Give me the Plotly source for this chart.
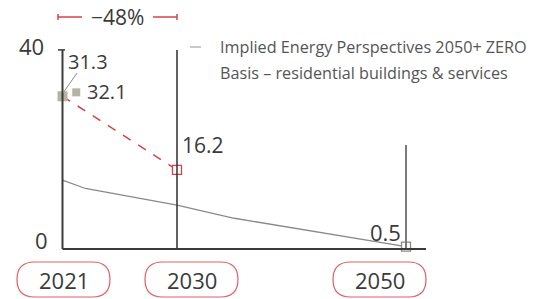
import plotly.graph_objects as go

# ---- data ----
year_labels = ["2021", "2030", "2050"]
year_pos = [2020, 2030, 2050]          # positions on the (decade-spaced) axis
target_values = [31.3, 16.2]           # red dashed path 2021 -> 2030
end_value_2050 = 0.5
extra_2021_value = 32.1
ep_years = [2020, 2022, 2030, 2035, 2050]   # Energy Perspectives 2050+ ZERO Basis
ep_values = [14.1, 12.4, 9.0, 6.3, 0.5]
y_ticks = [0, 40]
reduction_label = "\u221248%"
legend_lines = ["Implied Energy Perspectives 2050+ ZERO", "Basis \u2013 residential buildings & services"]

OFF = 0                      # body margin removed via post_script
W, H = 539 - OFF, 299 - OFF
FONT = "Open Sans"
DARK = "#3a3a3a"
RED = "#d9404a"
GRAY = "#8a8a85"
BEIGE = "#b6b3a4"

def px(x):
    return (x - OFF) / W

def py(y):
    return 1 - (y - OFF) / H

fig = go.Figure()

fig.add_trace(go.Scatter(x=ep_years, y=ep_values, mode="lines",
                         line=dict(color=GRAY, width=1.3), hoverinfo="skip"))
fig.add_trace(go.Scatter(x=year_pos[:2], y=target_values, mode="lines",
                         line=dict(color=RED, width=1.5, dash="dash"), hoverinfo="skip"))
fig.add_trace(go.Scatter(x=[year_pos[0]], y=[target_values[0]], mode="markers",
                         marker=dict(symbol="square", size=10, color=BEIGE), hoverinfo="skip"))
fig.add_trace(go.Scatter(x=[year_pos[0] + 1.2], y=[extra_2021_value], mode="markers",
                         marker=dict(symbol="square", size=8, color=BEIGE), hoverinfo="skip"))
fig.add_trace(go.Scatter(x=[year_pos[1]], y=[target_values[1]], mode="markers",
                         marker=dict(symbol="square", size=9, color="white",
                                     line=dict(color=RED, width=1.3)), hoverinfo="skip"))
fig.add_trace(go.Scatter(x=[year_pos[2]], y=[end_value_2050], mode="markers",
                         marker=dict(symbol="square", size=9, color="white",
                                     line=dict(color=GRAY, width=1.3)), hoverinfo="skip"))

shapes = []
shapes.append(dict(type="line", xref="x", yref="y", x0=year_pos[0], x1=year_pos[0],
                   y0=0, y1=40.8, line=dict(color=DARK, width=2)))
shapes.append(dict(type="line", xref="x", yref="y", x0=year_pos[1], x1=year_pos[1],
                   y0=0, y1=40.8, line=dict(color=DARK, width=1.6)))
shapes.append(dict(type="line", xref="x", yref="y", x0=year_pos[2], x1=year_pos[2],
                   y0=0, y1=21.3, line=dict(color="#7a7a7a", width=2)))
shapes.append(dict(type="line", xref="x", yref="y", x0=year_pos[0], x1=year_pos[2] + 1.75,
                   y0=0, y1=0, line=dict(color=DARK, width=2)))
shapes.append(dict(type="line", xref="paper", yref="y", x0=px(58), x1=px(65),
                   y0=40.8, y1=40.8, line=dict(color=DARK, width=1.5)))
shapes.append(dict(type="line", xref="paper", yref="paper", x0=px(63), y0=py(93),
                   x1=px(77), y1=py(73), line=dict(color=GRAY, width=1)))
shapes.append(dict(type="line", xref="paper", yref="paper", x0=px(190), y0=py(47),
                   x1=px(201), y1=py(47), line=dict(color="#aaaaaa", width=1.3)))
for xa, xb, xt in [(58, 82, 58), (153, 177, 177)]:
    shapes.append(dict(type="line", xref="paper", yref="paper", x0=px(xa), y0=py(17),
                       x1=px(xb), y1=py(17), line=dict(color=RED, width=1.5)))
    shapes.append(dict(type="line", xref="paper", yref="paper", x0=px(xt), y0=py(14),
                       x1=px(xt), y1=py(20), line=dict(color=RED, width=1.5)))

pill_bounds = [(17, 110), (145, 238), (333, 426)]
top, bot = 262, 297
r = (bot - top) / 2
for (x0, x1) in pill_bounds:
    def P(x, y):
        return f"{px(x):.5f},{py(y):.5f}"
    path = (f"M {P(x0 + r, top)} L {P(x1 - r, top)} "
            f"Q {P(x1, top)} {P(x1, top + r)} "
            f"Q {P(x1, bot)} {P(x1 - r, bot)} "
            f"L {P(x0 + r, bot)} "
            f"Q {P(x0, bot)} {P(x0, top + r)} "
            f"Q {P(x0, top)} {P(x0 + r, top)} Z")
    shapes.append(dict(type="path", xref="paper", yref="paper", path=path,
                       line=dict(color="#e06068", width=1.2), fillcolor="rgba(0,0,0,0)"))

annotations = []
def txt(text, x, y, size, color=DARK, xanchor="center", pad=1):
    annotations.append(dict(text=text, x=px(x), y=py(y), xref="paper", yref="paper",
                            xanchor=xanchor, yanchor="middle", showarrow=False,
                            borderpad=pad,
                            font=dict(family=FONT, size=size, color=color)))

for lab, (x0, x1) in zip(year_labels, pill_bounds):
    txt(lab, (x0 + x1) / 2, 280, 22)

txt(str(y_ticks[1]), 46, 46, 22, xanchor="right")
txt(str(y_ticks[0]), 50, 240, 22, xanchor="right")
txt(f"{target_values[0]}", 66, 62, 20, xanchor="left")
txt(f"{extra_2021_value}", 85, 91, 20, xanchor="left")
txt(f"{target_values[1]}", 180, 145, 21, xanchor="left")
txt(f"{end_value_2050}", 403, 232, 22, xanchor="right")
txt(reduction_label, 117, 17, 21, pad=0)
txt(legend_lines[0], 218, 47, 16.2, color="#555555", xanchor="left")
txt(legend_lines[1], 218, 73, 16.2, color="#555555", xanchor="left")

fig.update_layout(
    width=W, height=H,
    margin=dict(l=0, r=0, t=0, b=0),
    paper_bgcolor="white", plot_bgcolor="white",
    showlegend=False,
    xaxis=dict(range=[2030 - (177 - OFF) / 11.45, 2030 + 362 / 11.45], visible=False, fixedrange=True),
    yaxis=dict(range=[-50 / 4.88, (249 - OFF) / 4.88], visible=False, fixedrange=True),
    shapes=shapes,
    annotations=annotations,
)

fig.write_html("out.html", config={"displayModeBar": False},
               post_script="document.body.style.margin='0px';")
